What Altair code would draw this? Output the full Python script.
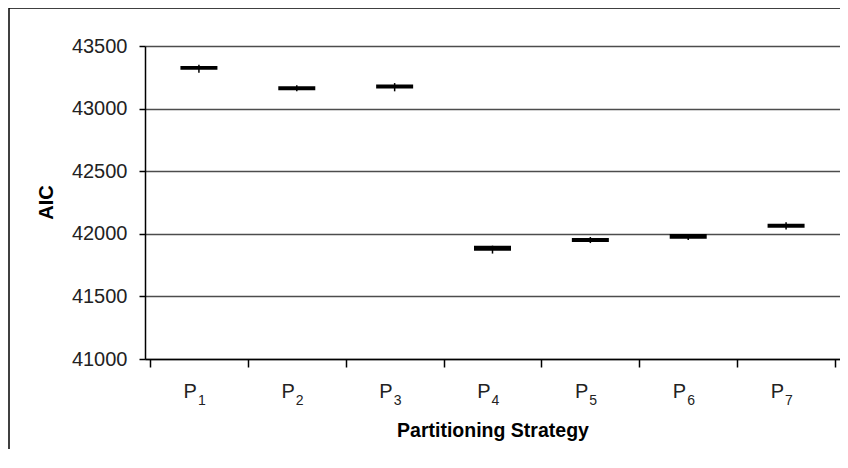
import altair as alt
import pandas as pd

categories = ["P1", "P2", "P3", "P4", "P5", "P6", "P7"]
subscripts = ["1", "2", "3", "4", "5", "6", "7"]
low = [43287, 43138, 43138, 41842, 41926, 41950, 42035]
high = [43351, 43186, 43204, 41905, 41974, 41998, 42093]
box_low = [43311, 43146, 43160, 41865, 41934, 41960, 42048]
box_high = [43340, 43178, 43192, 41905, 41966, 41998, 42080]
y_ticks = [41000, 41500, 42000, 42500, 43000, 43500]

W, H = 695, 313
PAD_L = 137
FONT = "Liberation Sans"

df = pd.DataFrame({
    "cat": categories,
    "sub": subscripts,
    "pos": [i + 0.5 for i in range(len(categories))],
    "low": low, "high": high, "box_low": box_low, "box_high": box_high,
})

xscale = alt.Scale(domain=[0, len(categories)], nice=False, zero=False)
yscale = alt.Scale(domain=[41000, 43500], nice=False, zero=False)

base = alt.Chart(df)

rules = base.mark_rule(color="black", strokeWidth=1.5).encode(
    x=alt.X("pos:Q", scale=xscale, axis=alt.Axis(
        values=list(range(len(categories) + 1)), labels=False, grid=False,
        tickSize=8, tickColor="black", tickWidth=1.5, domainColor="black",
        domainWidth=1.5, title="Partitioning Strategy", titleFont=FONT,
        titleFontSize=19.5, titleFontWeight="bold", titleColor="black",
        titleY=77, titleBaseline="alphabetic")),
    y=alt.Y("low:Q", scale=yscale, axis=alt.Axis(
        values=y_ticks, format="d", grid=True, gridColor="#4d4d4d",
        gridWidth=1.5, tickSize=6, tickColor="black", tickWidth=1.5,
        domainColor="black", domainWidth=1.5, labelFont=FONT,
        labelFontSize=20, labelColor="#222", labelPadding=12,
        title="AIC", titleFont=FONT, titleFontSize=20, titleFontWeight="bold",
        titleColor="black", titleAngle=270, titleX=-93, titleY=156,
        titleBaseline="alphabetic", titleAlign="center")),
    y2="high:Q",
)

boxes = base.mark_bar(color="black", size=37).encode(
    x=alt.X("pos:Q", scale=xscale),
    y=alt.Y("box_low:Q", scale=yscale),
    y2="box_high:Q",
)

p_text = base.mark_text(font=FONT, fontSize=20, color="#222", align="right",
                        baseline="alphabetic", dx=-2).encode(
    x=alt.X("pos:Q", scale=xscale),
    y=alt.value(H + 39),
    text=alt.value("P"),
)

sub_text = base.mark_text(font=FONT, fontSize=14, color="#222", align="left",
                          baseline="alphabetic", dx=-1).encode(
    x=alt.X("pos:Q", scale=xscale),
    y=alt.value(H + 46),
    text="sub:N",
)

frame_df = pd.DataFrame({"f": [0]})
frame_left = alt.Chart(frame_df).mark_rule(color="black", strokeWidth=1.5).encode(
    x=alt.value(-136), y=alt.value(-38), y2=alt.value(H + 100),
)
frame_top = alt.Chart(frame_df).mark_rule(color="black", strokeWidth=1.5).encode(
    x=alt.value(-136), x2=alt.value(W + 5), y=alt.value(-38),
)

chart = alt.layer(frame_left, frame_top, rules, boxes, p_text, sub_text).properties(
    width=W, height=H,
    autosize=alt.AutoSizeParams(type="none"),
    padding={"left": PAD_L, "top": 38, "right": 0, "bottom": 90},
    background="white",
).configure_view(stroke=None)

chart.save("out.html", embed_options={"renderer": "svg", "actions": False})
